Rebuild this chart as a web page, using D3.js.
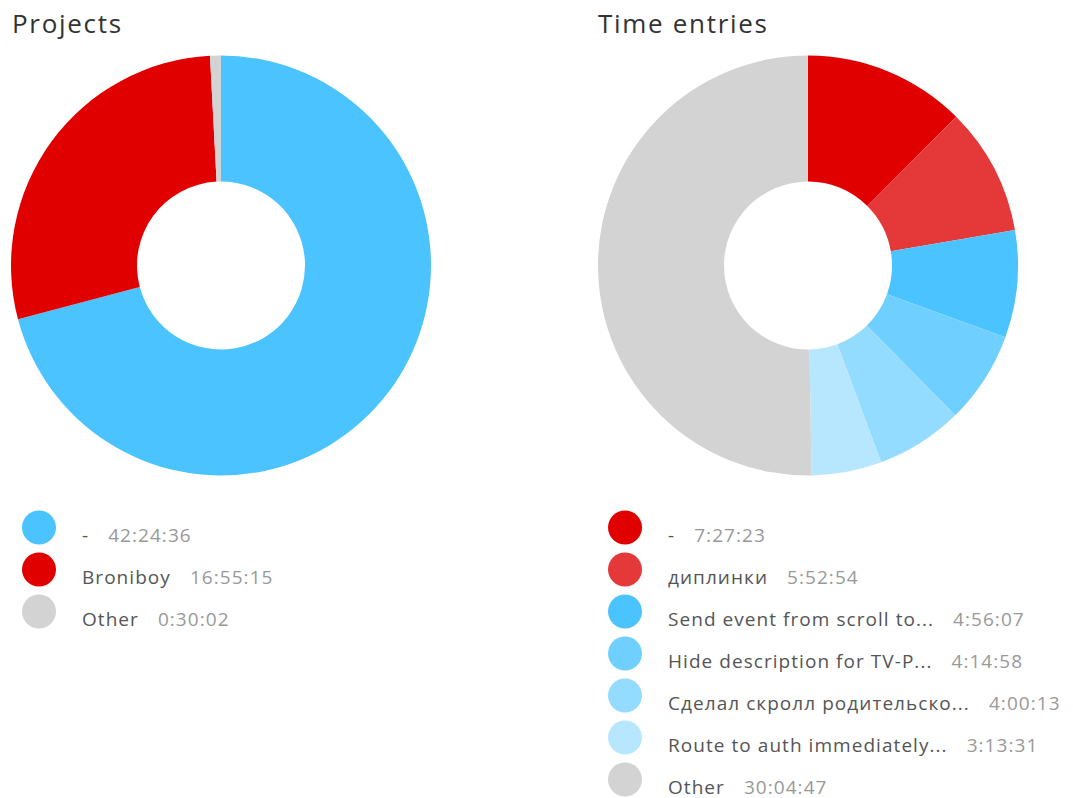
<!DOCTYPE html>
<html>
<head>
<meta charset="utf-8">
<script src="https://cdn.jsdelivr.net/npm/d3@7"></script>
<style>
  html, body { margin: 0; padding: 0; background: #fff; }
  svg { display: block; font-family: "Open Sans", sans-serif; }
</style>
</head>
<body>
<svg id="chart" width="1073" height="798"></svg>
<script>
// Projects breakdown
const projectNames = ["-", "Broniboy", "Other"];
const projectTimes = ["42:24:36", "16:55:15", "0:30:02"];
const projectColors = ["#4bc3ff", "#e00000", "#d3d3d3"];

// Time entries breakdown
const entryNames = ["-", "диплинки", "Send event from scroll to...", "Hide description for TV-P...",
  "Сделал скролл родительско...", "Route to auth immediately...", "Other"];
const entryTimes = ["7:27:23", "5:52:54", "4:56:07", "4:14:58", "4:00:13", "3:13:31", "30:04:47"];
const entryColors = ["#e00000", "#e53939", "#4bc3ff", "#6fcfff", "#93dbff", "#b7e7ff", "#d3d3d3"];

// "h:mm:ss" -> seconds
const toSeconds = s => s.split(":").map(Number).reduce((a, v) => a * 60 + v, 0);

const svg = d3.select("#chart");

function donutPanel(opts) {
  const { title, names, times, colors, x0, cx } = opts;
  const data = names.map((n, i) => ({ name: n, time: times[i], value: toSeconds(times[i]), color: colors[i] }));
  const g = svg.append("g");

  g.append("text")
    .attr("x", x0 + 12).attr("y", 33)
    .attr("font-size", 26)
    .attr("letter-spacing", 1.7)
    .attr("fill", "#333")
    .text(title);

  const pie = d3.pie().value(d => d.value).sort(null);
  const arc = d3.arc().innerRadius(84).outerRadius(210);

  g.append("g")
    .attr("transform", `translate(${cx},265.5)`)
    .selectAll("path")
    .data(pie(data))
    .join("path")
    .attr("d", arc)
    .attr("fill", d => d.data.color);

  const rowY = d3.scaleLinear().domain([0, 1]).range([527.5, 569.5]);
  const rows = g.selectAll("g.row")
    .data(data)
    .join("g")
    .attr("class", "row")
    .attr("transform", (d, i) => `translate(${x0},${rowY(i)})`);

  rows.append("circle")
    .attr("cx", 39).attr("cy", 0).attr("r", 17)
    .attr("fill", d => d.color);

  const label = rows.append("text")
    .attr("x", 82).attr("y", 14)
    .attr("font-size", 19)
    .attr("letter-spacing", 1.05);
  label.append("tspan").attr("fill", "#555").text(d => d.name);
  label.append("tspan").attr("dx", 19).attr("fill", "#999").text(d => d.time);
}

donutPanel({ title: "Projects", names: projectNames, times: projectTimes, colors: projectColors, x0: 0, cx: 221 });
donutPanel({ title: "Time entries", names: entryNames, times: entryTimes, colors: entryColors, x0: 586, cx: 808 });
</script>
</body>
</html>
